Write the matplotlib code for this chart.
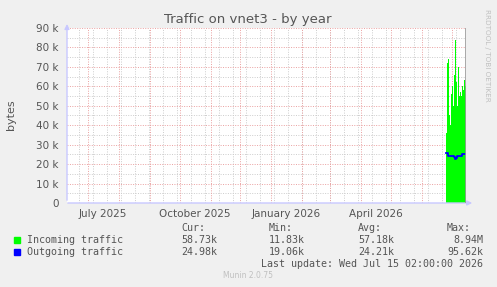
import numpy as np
import pandas as pd
import matplotlib
matplotlib.use("Agg")
import matplotlib.pyplot as plt
import matplotlib.dates as mdates

# Data (daily values, last ~3 weeks only)
days = pd.date_range("2026-06-25", periods=21, freq="D")
incoming = [36000, 72000, 74000, 45000, 40000, 56000, 60000, 50000, 66000, 84000,
            62000, 50000, 70000, 55000, 57000, 55000, 60000, 58000, 63000, 60000, 59000]
outgoing = [25700, 25500, 24200, 24200, 24200, 24200, 24200, 24200, 23500, 22600,
            23400, 24300, 24300, 24300, 24300, 24300, 25000, 25000, 25000, 25000, 25000]

yticks = [0, 10000, 20000, 30000, 40000, 50000, 60000, 70000, 80000, 90000]
ytick_labels = ["0", "10 k", "20 k", "30 k", "40 k", "50 k", "60 k", "70 k", "80 k", "90 k"]
xlabel_dates = ["2025-07-16", "2025-10-16", "2026-01-16", "2026-04-16"]
xlabel_texts = ["July 2025", "October 2025", "January 2026", "April 2026"]

legend_rows = [
    ("Incoming traffic", "#00ff00", ["58.73k", "11.83k", "57.18k", "8.94M"]),
    ("Outgoing traffic", "#0000ff", ["24.98k", "19.06k", "24.21k", "95.62k"]),
]

start = pd.Timestamp("2025-06-10 02:00")
end = pd.Timestamp("2026-07-15 02:00")

bg = "#f0f0f0"
txt = "#555555"
fig = plt.figure(figsize=(4.97, 2.87), dpi=100, facecolor=bg)
ax = fig.add_axes([67 / 497, 1 - 203 / 287, 399 / 497, 175 / 287])
ax.set_facecolor("white")

x0, x1 = mdates.date2num(start), mdates.date2num(end)
ax.set_xlim(x0, x1)
ax.set_ylim(0, 90000)

# grid: minor (grey, 2 weeks / 5k) and major (red, months / 10k)
dots = (0, (1, 1.5))
for d in pd.date_range("2025-06-22", end, freq="14D"):
    ax.axvline(mdates.date2num(d), color="#cccccc", lw=0.7, ls=dots, zorder=1)
for y in range(5000, 90001, 10000):
    ax.axhline(y, color="#cccccc", lw=0.7, ls=dots, zorder=1)
for d in pd.date_range("2025-07-01", end, freq="MS"):
    ax.axvline(mdates.date2num(d), color="#eaa0a0", lw=0.7, ls=dots, zorder=1)
for y in yticks[1:]:
    ax.axhline(y, color="#eaa0a0", lw=0.7, ls=dots, zorder=1)

dn = mdates.date2num(days)
ax.fill_between(dn, incoming, step="post", color="#00ff00", lw=0, zorder=2)
ax.step(dn, outgoing, where="post", color="#0000ff", lw=1.3, zorder=3)
ax.axvline(x1, color="#999999", lw=1.2, zorder=4)

for s in ax.spines.values():
    s.set_visible(False)
ax.tick_params(length=0)
ax.set_yticks(yticks)
ax.set_yticklabels(ytick_labels, fontsize=7.5, color=txt)
ax.tick_params(axis="y", pad=6)
ax.set_xticks([mdates.date2num(pd.Timestamp(d)) for d in xlabel_dates])
ax.set_xticklabels(xlabel_texts, fontsize=7.5, color=txt)
ax.tick_params(axis="x", pad=4)

# axes with arrows
ax.annotate("", xy=(x0, 93500), xytext=(x0, 0), annotation_clip=False,
            arrowprops=dict(arrowstyle="-|>", color="#c8c8ff", lw=1, mutation_scale=7))
ax.annotate("", xy=(x1 + 9, 0), xytext=(x0 - 2, 0), annotation_clip=False,
            arrowprops=dict(arrowstyle="-|>", color="#c8c8ff", lw=1, mutation_scale=7))

fig.text(248 / 497, 1 - 19 / 287, "Traffic on vnet3 - by year", ha="center", va="center",
         fontsize=9.5, color=txt)
fig.text(11 / 497, 1 - 115 / 287, "bytes", rotation=90, ha="center", va="center",
         fontsize=8, color=txt)
fig.text(487 / 497, 1 - 55 / 287, "RRDTOOL / TOBI OETIKER", rotation=270, ha="center",
         va="center", fontsize=5.2, color="#c0c0c0")

mono = "DejaVu Sans Mono"
fs = 7.2
hy = 1 - 228 / 287
for xr, head in zip([181, 269, 358, 447], ["Cur:", "Min:", "Avg:", "Max:"]):
    fig.text(xr / 497, hy, head, family=mono, fontsize=fs, color=txt, va="center")
value_right = [217, 305, 394, 483]
for i, (name, col, vals) in enumerate(legend_rows):
    yy = 1 - (240 + i * 12) / 287
    fig.patches.append(plt.Rectangle((14 / 497, yy - 3 / 287), 6 / 497, 6 / 287,
                                     transform=fig.transFigure, color=col))
    fig.text(27 / 497, yy, name, family=mono, fontsize=fs, color=txt, va="center")
    for xr, v in zip(value_right, vals):
        fig.text(xr / 497, yy, v, family=mono, fontsize=fs, color=txt, va="center", ha="right")
fig.text(483 / 497, 1 - 264 / 287, "Last update: Wed Jul 15 02:00:00 2026", family=mono,
         fontsize=fs, color=txt, va="center", ha="right")
fig.text(248 / 497, 1 - 276 / 287, "Munin 2.0.75", fontsize=5.5, color="#c0c0c0",
         va="center", ha="center")

fig.savefig("out.png", dpi=100, facecolor=bg)
